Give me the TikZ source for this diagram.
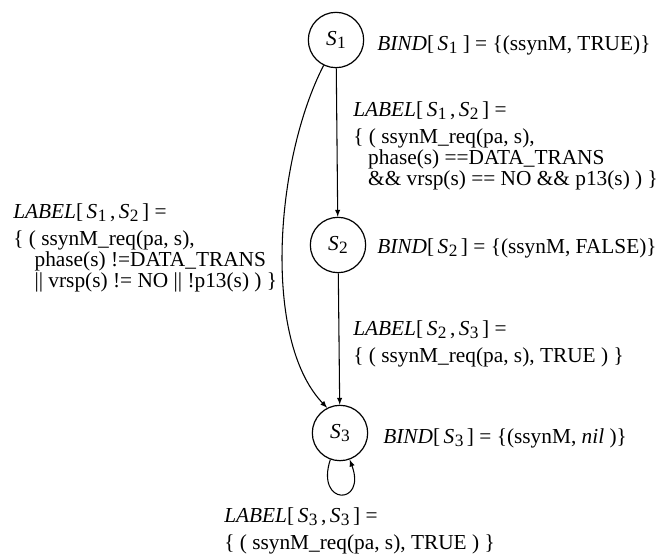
\documentclass[tikz,border=0pt]{standalone}
\usepackage{fontspec}
\setmainfont{Liberation Serif}
\usetikzlibrary{arrows}

% state name with a lowered index
\newcommand{\st}[1]{\textit{S}\kern0.3pt\raisebox{-0.3ex}{\fontsize{13}{13}\selectfont #1}}

\begin{document}
\begin{tikzpicture}[x=0.75pt, y=-0.75pt, >=latex,
		font=\fontsize{16}{14.25}\selectfont,
		state/.style={circle, draw, line width=0.9pt, minimum size=41.5pt, inner sep=0pt},
		edge/.style={->, line width=0.8pt},
		txt/.style={anchor=west, inner sep=0pt},
		lbl/.style={anchor=north west, inner sep=0pt, align=left}]
		
		\useasboundingbox (0,0) rectangle (665,558);
		
		% States
		\node[state] (s1) at (336,40) {\st1};
		\node[state] (s2) at (338,245) {\st2};
		\node[state] (s3) at (340,433) {\st3};
		
		% Transitions
		\draw[edge] (s1) -- (s2);
		\draw[edge] (s2) -- (s3);
		\draw[edge] (s1.244) .. controls (275,160) and (262,340) .. (s3.117);
		\draw[edge] (s3.250) .. controls (315,506) and (367,506) .. (s3.290);
		
		% Bindings
		\node[txt] (b1) at (377,45) {\textit{BIND}[\,\st1\ ] = \{(ssynM, TRUE)\}};
		\node[txt] (b2) at (377,248) {\textit{BIND}[\,\st2\,] = \{(ssynM, FALSE)\}};
		\node[txt] (b3) at (383,438) {\textit{BIND}[\,\st3\,] = \{(ssynM, \textit{nil}\ )\}};
		
		% Edge labels
		\node[lbl] (l12) at (353,101) {\textit{LABEL}[\,\st1\,,\,\st2\,] =\\[6.5pt]
			\{ ( ssynM\_req(pa, s),\\
			\hspace*{0.7em}phase(s) ==DATA\_TRANS\\
			\hspace*{0.7em}\&\& vrsp(s) == NO \&\& p13(s) ) \}};
		\node[lbl] (l13) at (13,203) {\textit{LABEL}[\,\st1\,,\,\st2\,] =\\[6.5pt]
			\{ ( ssynM\_req(pa, s),\\
			\hspace*{1em}phase(s) !=DATA\_TRANS\\
			\hspace*{1em}\textbar\textbar{} vrsp(s) != NO \textbar\textbar{} !p13(s) ) \}};
		\node[lbl] (l23) at (353,320) {\textit{LABEL}[\,\st2\,,\,\st3\,] =\\[6.5pt]
			\{ ( ssynM\_req(pa, s), TRUE ) \}};
		\node[lbl] (l33) at (224,507) {\textit{LABEL}[\,\st3\,,\,\st3\,] =\\[6pt]
			\{ ( ssynM\_req(pa, s), TRUE ) \}};
		
	\end{tikzpicture}
\end{document}
